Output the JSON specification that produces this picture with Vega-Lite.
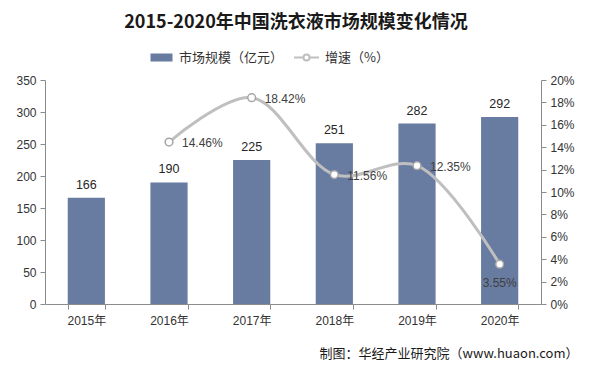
{
  "$schema": "https://vega.github.io/schema/vega-lite/v6.json",
  "width": 496,
  "height": 224,
  "autosize": {"type": "none"},
  "padding": {"left": 45, "top": 80, "right": 53, "bottom": 69},
  "background": "white",
  "title": {
    "text": "2015-2020年中国洗衣液市场规模变化情况",
    "font": "Noto Sans CJK SC",
    "fontSize": 18,
    "fontWeight": "bold",
    "color": "#1a1a1a",
    "anchor": "middle",
    "offset": 19,
    "dx": 3
  },
  "data": {
    "values": [
      {"year": "2015", "size": 166, "growth": null},
      {"year": "2016", "size": 190, "growth": 0.1446},
      {"year": "2017", "size": 225, "growth": 0.1842},
      {"year": "2018", "size": 251, "growth": 0.1156},
      {"year": "2019", "size": 282, "growth": 0.1235},
      {"year": "2020", "size": 292, "growth": 0.0355}
    ]
  },
  "encoding": {
    "x": {
      "field": "year",
      "type": "ordinal",
      "sort": null,
      "scale": {"paddingInner": 0.55, "paddingOuter": 0.275},
      "axis": {
        "labelExpr": "datum.label ? datum.label + '年' : ''",
        "labelAngle": 0,
        "labelOverlap": false,
        "labelFont": "Liberation Sans, Noto Sans CJK SC",
        "labelFontSize": 12,
        "labelColor": "#333333",
        "labelPadding": 6,
        "tickBand": "extent",
        "tickSize": 5,
        "tickColor": "#8C8C8C",
        "domainColor": "#8C8C8C",
        "title": "制图：华经产业研究院（www.huaon.com）",
        "titleFont": "Noto Sans CJK SC",
        "titleFontSize": 13,
        "titleFontWeight": "normal",
        "titleColor": "#1a1a1a",
        "titleX": 533,
        "titleY": 49,
        "titleAlign": "right",
        "titleBaseline": "middle",
        "titleAngle": 0
      }
    }
  },
  "layer": [
    {
      "encoding": {
        "y": {
          "field": "size",
          "type": "quantitative",
          "scale": {"domain": [0, 350], "nice": false},
          "axis": {
            "orient": "left",
            "values": [0, 50, 100, 150, 200, 250, 300, 350],
            "labelOverlap": false,
            "grid": false,
            "title": null,
            "labelFont": "Liberation Sans",
            "labelFontSize": 12,
            "labelColor": "#333333",
            "labelPadding": 4,
            "tickSize": 5,
            "tickColor": "#8C8C8C",
            "domainColor": "#8C8C8C"
          }
        }
      },
      "layer": [
        {
          "mark": {"type": "bar"},
          "encoding": {
            "color": {
              "datum": "市场规模（亿元）",
              "scale": {"range": ["#687BA1"]},
              "legend": {
                "orient": "none",
                "legendX": 110,
                "legendY": -29,
                "title": null,
                "symbolType": "M-2.2,-0.8H2.2V0.8H-2.2Z",
                "symbolSize": 100,
                "symbolStrokeWidth": 0,
                "labelOffset": 11,
                "labelFont": "Noto Sans CJK SC",
                "labelFontSize": 13,
                "labelColor": "#333333"
              }
            }
          }
        },
        {
          "mark": {
            "type": "text",
            "baseline": "bottom",
            "dy": -6,
            "font": "Liberation Sans",
            "fontSize": 12.5,
            "color": "#262626"
          },
          "encoding": {
            "text": {"field": "size", "type": "quantitative"}
          }
        }
      ]
    },
    {
      "transform": [{"filter": "datum.growth != null"}],
      "encoding": {
        "y": {
          "field": "growth",
          "type": "quantitative",
          "scale": {"domain": [0, 0.2], "nice": false},
          "axis": {
            "orient": "right",
            "values": [0, 0.02, 0.04, 0.06, 0.08, 0.1, 0.12, 0.14, 0.16, 0.18, 0.2],
            "labelOverlap": false,
            "format": ".0%",
            "grid": false,
            "title": null,
            "labelFont": "Liberation Sans",
            "labelFontSize": 12,
            "labelColor": "#333333",
            "labelPadding": 4,
            "tickSize": 5,
            "tickColor": "#8C8C8C",
            "domainColor": "#8C8C8C"
          }
        }
      },
      "layer": [
        {
          "mark": {"type": "line", "interpolate": "catmull-rom", "strokeWidth": 3},
          "encoding": {
            "stroke": {
              "datum": "增速（%）",
              "scale": {"range": ["#BFBFBF"]},
              "legend": {
                "orient": "none",
                "legendX": 255,
                "legendY": -29,
                "title": null,
                "symbolType": "M-2.5,0H-0.6M0.6,0H2.5M-0.6,0A0.6,0.6 0 1,1 0.6,0A0.6,0.6 0 1,1 -0.6,0",
                "symbolSize": 100,
                "symbolFillColor": "white",
                "symbolStrokeWidth": 2,
                "labelOffset": 12,
                "labelFont": "Noto Sans CJK SC",
                "labelFontSize": 13,
                "labelColor": "#333333"
              }
            }
          }
        },
        {
          "mark": {
            "type": "point",
            "filled": true,
            "fill": "white",
            "stroke": "#A6A6A6",
            "strokeWidth": 1.5,
            "size": 60,
            "opacity": 1
          }
        },
        {
          "transform": [{"filter": "datum.year != '2020'"}],
          "mark": {
            "type": "text",
            "align": "left",
            "baseline": "middle",
            "dx": 13,
            "dy": 1,
            "font": "Liberation Sans",
            "fontSize": 12,
            "color": "#404040"
          },
          "encoding": {
            "text": {"field": "growth", "type": "quantitative", "format": ".2%"}
          }
        },
        {
          "transform": [{"filter": "datum.year == '2020'"}],
          "mark": {
            "type": "text",
            "align": "center",
            "baseline": "middle",
            "dy": 19,
            "font": "Liberation Sans",
            "fontSize": 12,
            "color": "#404040"
          },
          "encoding": {
            "text": {"field": "growth", "type": "quantitative", "format": ".2%"}
          }
        }
      ]
    }
  ],
  "resolve": {"scale": {"y": "independent"}},
  "config": {"view": {"stroke": null}}
}
